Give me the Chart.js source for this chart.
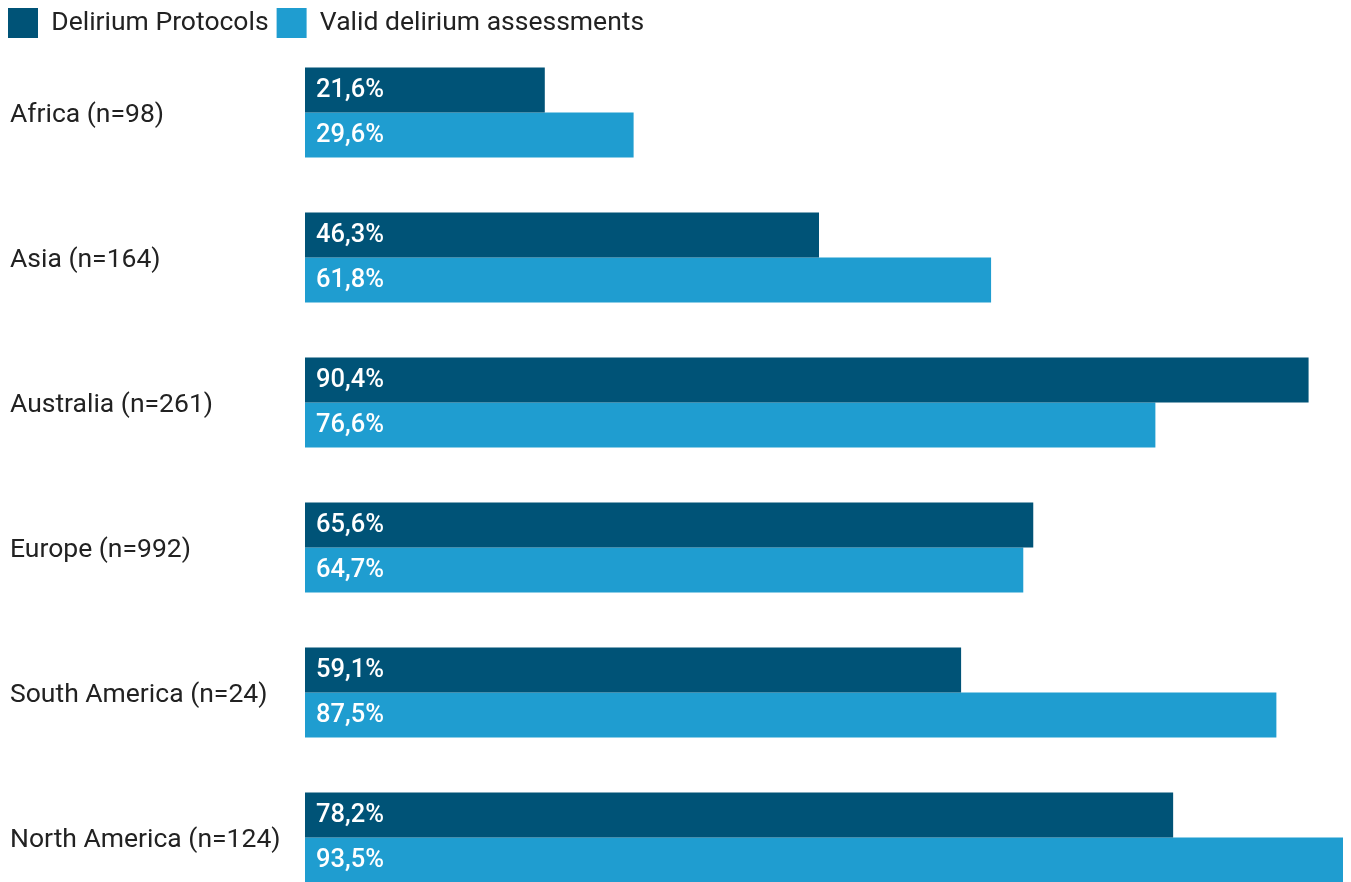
<!DOCTYPE html>
<html>
<head>
<meta charset="utf-8">
<script src="https://cdn.jsdelivr.net/npm/chart.js@4"></script>
<style>
  html, body { margin: 0; padding: 0; background: #fff; overflow: hidden; }
  #wrap { width: 1351px; height: 929px; position: relative; }
</style>
</head>
<body>
<div id="wrap"><canvas id="chart"></canvas></div>
<script>
const regions = ["Africa (n=98)", "Asia (n=164)", "Australia (n=261)", "Europe (n=992)", "South America (n=24)", "North America (n=124)"];
const protocols = [21.6, 46.3, 90.4, 65.6, 59.1, 78.2];
const assessments = [29.6, 61.8, 76.6, 64.7, 87.5, 93.5];

// white value labels inside the bars
const barLabels = {
  id: "barLabels",
  afterDatasetsDraw(chart) {
    const ctx = chart.ctx;
    ctx.save();
    ctx.font = "500 25.5px Roboto";
    ctx.fillStyle = "#fff";
    ctx.textAlign = "left";
    ctx.textBaseline = "middle";
    chart.data.datasets.forEach((ds, i) => {
      chart.getDatasetMeta(i).data.forEach((bar, j) => {
        const txt = ds.data[j].toFixed(1).replace(".", ",") + "%";
        ctx.fillText(txt, bar.base + 11, bar.y + 1);
      });
    });
    ctx.restore();
  },
};

// move the category labels in from the canvas edge
const labelInset = {
  id: "labelInset",
  afterLayout(chart) {
    chart.scales.y.left = 10;
  },
};

new Chart(document.getElementById("chart"), {
  type: "bar",
  data: {
    labels: regions,
    datasets: [
      { label: "Delirium Protocols", data: protocols, backgroundColor: "#005377" },
      { label: "Valid delirium assessments", data: assessments, backgroundColor: "#1f9dd0" },
    ],
  },
  options: {
    indexAxis: "y",
    responsive: true,
    maintainAspectRatio: false,
    animation: false,
    categoryPercentage: 0.6207,
    barPercentage: 1,
    layout: { padding: { left: 0, right: 8, top: 0, bottom: 0 } },
    scales: {
      x: { display: false, min: 0, max: 93.5 },
      y: {
        grid: { display: false },
        border: { display: false },
        afterFit: (scale) => { scale.width = 305; },
        ticks: {
          crossAlign: "far",
          labelOffset: 3,
          color: "#222",
          font: { family: "Roboto", size: 26.5 },
        },
      },
    },
    plugins: {
      tooltip: { enabled: false },
      legend: {
        align: "start",
        maxHeight: 40,
        labels: {
          boxWidth: 30,
          boxHeight: 30,
          padding: 8,
          color: "#222",
          font: { family: "Roboto", size: 26.5 },
        },
      },
    },
  },
  plugins: [barLabels, labelInset],
});
</script>
</body>
</html>
